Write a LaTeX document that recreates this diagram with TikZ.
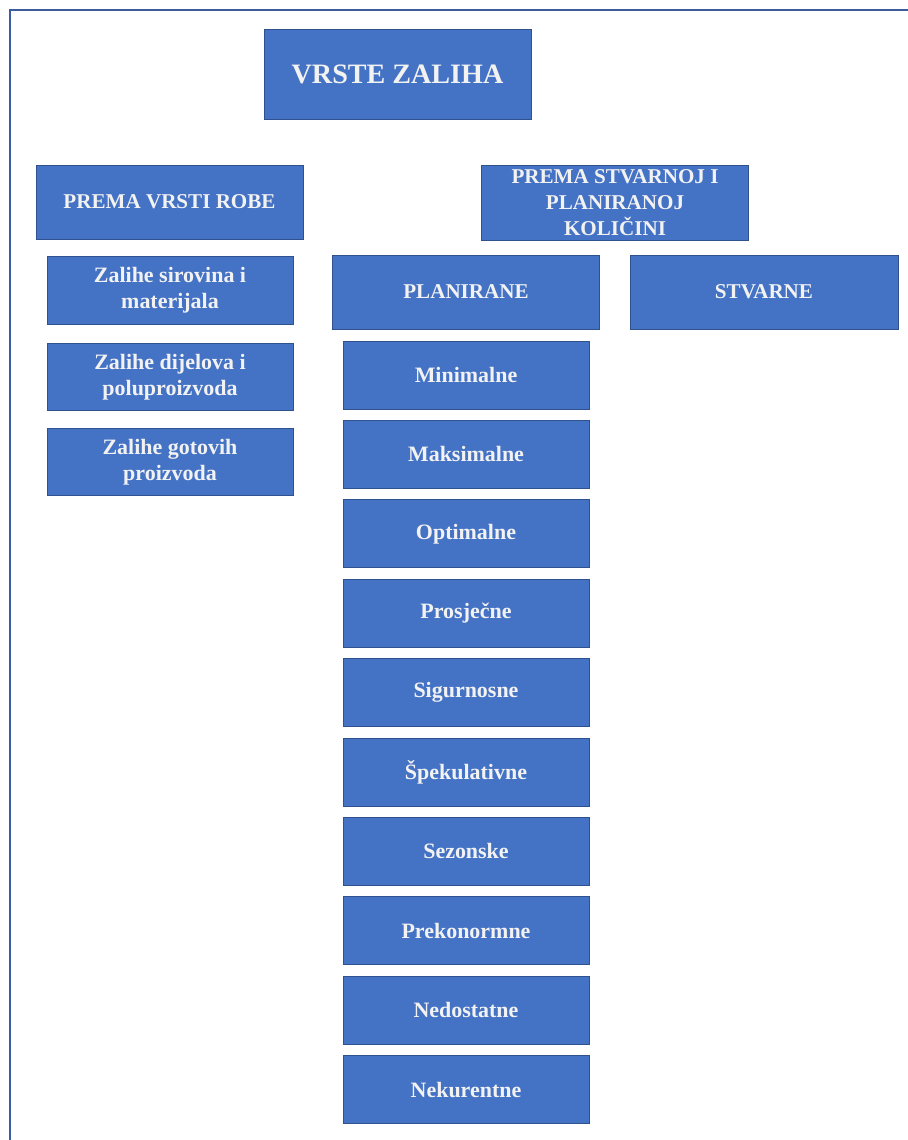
\documentclass[tikz,border=0pt]{standalone}
\usepackage{fontspec}
\setmainfont{Liberation Serif}
\usepackage{xcolor}
\usetikzlibrary{positioning}

\definecolor{boxblue}{HTML}{4472C4}
\definecolor{edgeblue}{HTML}{2F528F}
\definecolor{frameblue}{HTML}{3B5DA0}

\begin{document}
\begin{tikzpicture}[x=0.02cm,y=-0.02cm,
  box/.style={draw=edgeblue,fill=boxblue,text=white!95!black,align=center,inner sep=0pt,line width=0.5pt},
  headbox/.style={box,minimum width=5.34cm,minimum height=1.48cm,font=\fontsize{12}{15}\bfseries\selectfont},
  subbox/.style={box,minimum width=4.92cm,minimum height=1.35cm,font=\fontsize{12.5}{15}\bfseries\selectfont}]
\useasboundingbox (0,0) rectangle (908,1140);
% frame of the page
\draw[frameblue,line width=1.3pt] (10,1140) -- (10,10) -- (908,10);
% root
\node[box,minimum width=5.34cm,minimum height=1.8cm,font=\fontsize{16}{19}\bfseries\selectfont] (root) at (397.5,74) {VRSTE ZALIHA};
% the two criteria
\node[headbox] (robe) at (169.5,202) {PREMA VRSTI ROBE};
\node[headbox,minimum height=1.5cm] (kolicina) at (615,202.5) {PREMA STVARNOJ I\\PLANIRANOJ\\KOLIČINI};
\node[headbox] (planirane) at (466,292) {PLANIRANE};
\node[headbox,minimum width=5.36cm] (stvarne) at (764,292) {STVARNE};
% by kind of goods
\foreach \i/\y/\lab in {1/290.5/{Zalihe sirovina i\\materijala},2/377/{Zalihe dijelova i\\poluproizvoda},3/462/{Zalihe gotovih\\proizvoda}}{
  \node[subbox] (r\i) at (170,\y) {\lab};
}
% planned stocks
\foreach \i/\lab in {1/Minimalne,2/Maksimalne,3/Optimalne,4/Prosječne,5/Sigurnosne,6/Špekulativne,7/Sezonske,8/Prekonormne,9/Nedostatne,10/Nekurentne}{
  \node[subbox,minimum height=1.36cm] (p\i) at (466,{375+79.4*(\i-1)}) {\lab};
}
\end{tikzpicture}
\end{document}
